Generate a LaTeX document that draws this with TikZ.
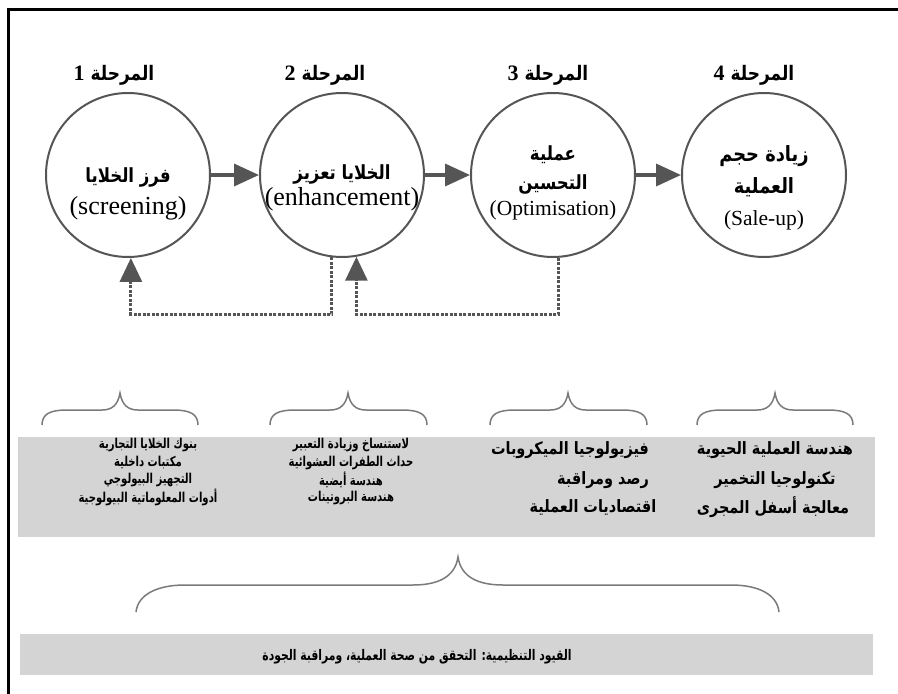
\documentclass[tikz,border=0pt]{standalone}
\usepackage{fontspec}
\setmainfont{Liberation Serif}
\newfontfamily\arabicfont[Script=Arabic,FakeStretch=0.85]{DejaVu Sans}
\newfontfamily\arabicnarrow[Script=Arabic,FakeStretch=0.74]{DejaVu Sans}
\TeXXeTstate=1
\usetikzlibrary{arrows.meta}
\newcommand\artxt[1]{{\arabicfont\bfseries\beginR #1\endR}}
\newcommand\arnar[1]{{\arabicnarrow\bfseries\beginR #1\endR}}
\newcommand\stnum[1]{{\rmfamily\bfseries\fontsize{22}{24}\selectfont #1}}
\newcommand\cbrace[6]{% x1, x2, xm, ytop, yh, yend
  \draw[bracestyle] (#1,#6) .. controls (#1,#5+4) and (#1+8,#5) .. (#1+25,#5)
    -- (#3-18,#5) .. controls (#3-8,#5) and (#3-2,#5-5) .. (#3,#4)
    .. controls (#3+2,#5-5) and (#3+8,#5) .. (#3+18,#5)
    -- (#2-25,#5) .. controls (#2-8,#5) and (#2,#5+4) .. (#2,#6);}
\definecolor{dk}{HTML}{555555}
\definecolor{boxgray}{HTML}{D4D4D4}
\definecolor{brc}{HTML}{7A7A7A}
\tikzset{
  stagecircle/.style={circle, draw=dk, line width=2pt, minimum size=164pt, inner sep=0pt},
  stagelabel/.style={inner sep=0pt, font=\fontsize{20}{22}\selectfont},
  artext/.style={inner sep=0pt, font=\fontsize{19.5}{22}\selectfont},
  arbig/.style={inner sep=0pt, font=\fontsize{21}{24}\selectfont},
  entext/.style={inner sep=0pt, font=\fontsize{26}{28}\selectfont},
  ensmall/.style={inner sep=0pt, font=\fontsize{21.5}{24}\selectfont},
  flowarrow/.style={draw=dk, line width=3.5pt, -{Triangle[length=25pt,width=22pt]}, fill=dk},
  fb/.style={draw=dk, line width=3pt, dash pattern=on 3pt off 1.5pt, -{Triangle[length=24pt,width=22pt]}},
  boxtext/.style={inner sep=0pt, font=\fontsize{13.6}{16}\selectfont},
  boxbig/.style={inner sep=0pt, font=\fontsize{17}{19}\selectfont},
  bottomtext/.style={inner sep=0pt, font=\fontsize{14.6}{17}\selectfont},
  bracestyle/.style={draw=brc, line width=1.5pt},
}
\begin{document}
\begin{tikzpicture}[x=1pt,y=-1pt]
\useasboundingbox (0,0) rectangle (898,694);
\fill[white] (0,0) rectangle (898,694);
% frame
\draw[line width=3pt, black] (8.5,694) -- (8.5,9.5) -- (898,9.5);
% circles
\node[stagecircle] (c1) at (128,175) {};
\node[stagecircle] (c2) at (342,175) {};
\node[stagecircle] (c3) at (553,175) {};
\node[stagecircle] (c4) at (764,175) {};
% stage labels
\node[stagelabel] (l1) at (114,75) {\artxt{المرحلة \stnum{1}}};
\node[stagelabel] (l2) at (325,75) {\artxt{المرحلة \stnum{2}}};
\node[stagelabel] (l3) at (548,75) {\artxt{المرحلة \stnum{3}}};
\node[stagelabel] (l4) at (754,75) {\artxt{المرحلة \stnum{4}}};
% circle texts
\node[artext] (t1a) at (128,177) {\artxt{فرز الخلايا}};
\node[entext] (t1b) at (128,208) {(screening)};
\node[artext] (t2a) at (342,174) {\artxt{الخلايا تعزيز}};
\node[entext] (t2b) at (342,199) {(enhancement)};
\node[artext] (t3a) at (553,155) {\artxt{عملية}};
\node[artext] (t3b) at (553,184) {\artxt{التحسين}};
\node[ensmall] (t3c) at (553,210) {(Optimisation)};
\node[arbig] (t4a) at (764,156) {\artxt{زيادة حجم}};
\node[arbig] (t4b) at (764,187) {\artxt{العملية}};
\node[ensmall] (t4c) at (764,220) {(Sale-up)};
% forward arrows
\draw[flowarrow] (c1.east) -- (c2.west);
\draw[flowarrow] (c2.east) -- (c3.west);
\draw[flowarrow] (c3.east) -- (c4.west);
% feedback arrows
\coordinate (fy) at (0,314);
\draw[fb] (c2.-97) |- (fy -| c1.-88) -- (c1.-88);
\draw[fb] (c3.-86) |- (fy -| c2.-80) -- (c2.-80);
% small braces
\cbrace{42}{198}{120}{393}{410}{425}
\cbrace{270}{427}{348}{393}{410}{425}
\cbrace{490}{647}{568}{393}{410}{425}
\cbrace{697}{853}{775}{393}{410}{425}
% grey box 1
\fill[boxgray] (18,437) rectangle (875,537);
\node[boxtext] (a1) at (148,445) {\arnar{بنوك الخلايا التجارية}};
\node[boxtext] (a2) at (148,462.5) {\arnar{مكتبات داخلية}};
\node[boxtext] (a3) at (148,480) {\arnar{التجهيز البيولوجي}};
\node[boxtext] (a4) at (148,497.5) {\arnar{أدوات المعلوماتية البيولوجية}};
\node[boxtext] (b1) at (351,445) {\arnar{لاستنساخ وزيادة التعبير}};
\node[boxtext] (b2) at (351,462.5) {\arnar{حداث الطفرات العشوائية}};
\node[boxtext] (b3) at (351,480) {\arnar{هندسة أيضية}};
\node[boxtext] (b4) at (351,497.5) {\arnar{هندسة البروتينات}};
\node[boxbig] (d1) at (570,450) {\artxt{فيزيولوجيا الميكروبات}};
\node[boxbig] (d2) at (603,480) {\artxt{رصد ومراقبة}};
\node[boxbig] (d3) at (593,507) {\artxt{اقتصاديات العملية}};
\node[boxbig] (e1) at (775,450) {\artxt{هندسة العملية الحيوية}};
\node[boxbig] (e2) at (775,480) {\artxt{تكنولوجيا التخمير}};
\node[boxbig] (e3) at (773,507) {\artxt{معالجة أسفل المجرى}};
% big brace
\draw[bracestyle] (136,612) .. controls (138,594) and (158,585) .. (185,585)
  -- (413,585) .. controls (438,585) and (455,577) .. (458,557)
  .. controls (461,577) and (478,585) .. (503,585)
  -- (731,585) .. controls (758,585) and (777,594) .. (779,612);
% grey box 2
\fill[boxgray] (20,634) rectangle (873,675);
\node[bottomtext] (g1) at (417,657) {\arnar{القيود التنظيمية: التحقق من صحة العملية، ومراقبة الجودة}};
\end{tikzpicture}
\end{document}
